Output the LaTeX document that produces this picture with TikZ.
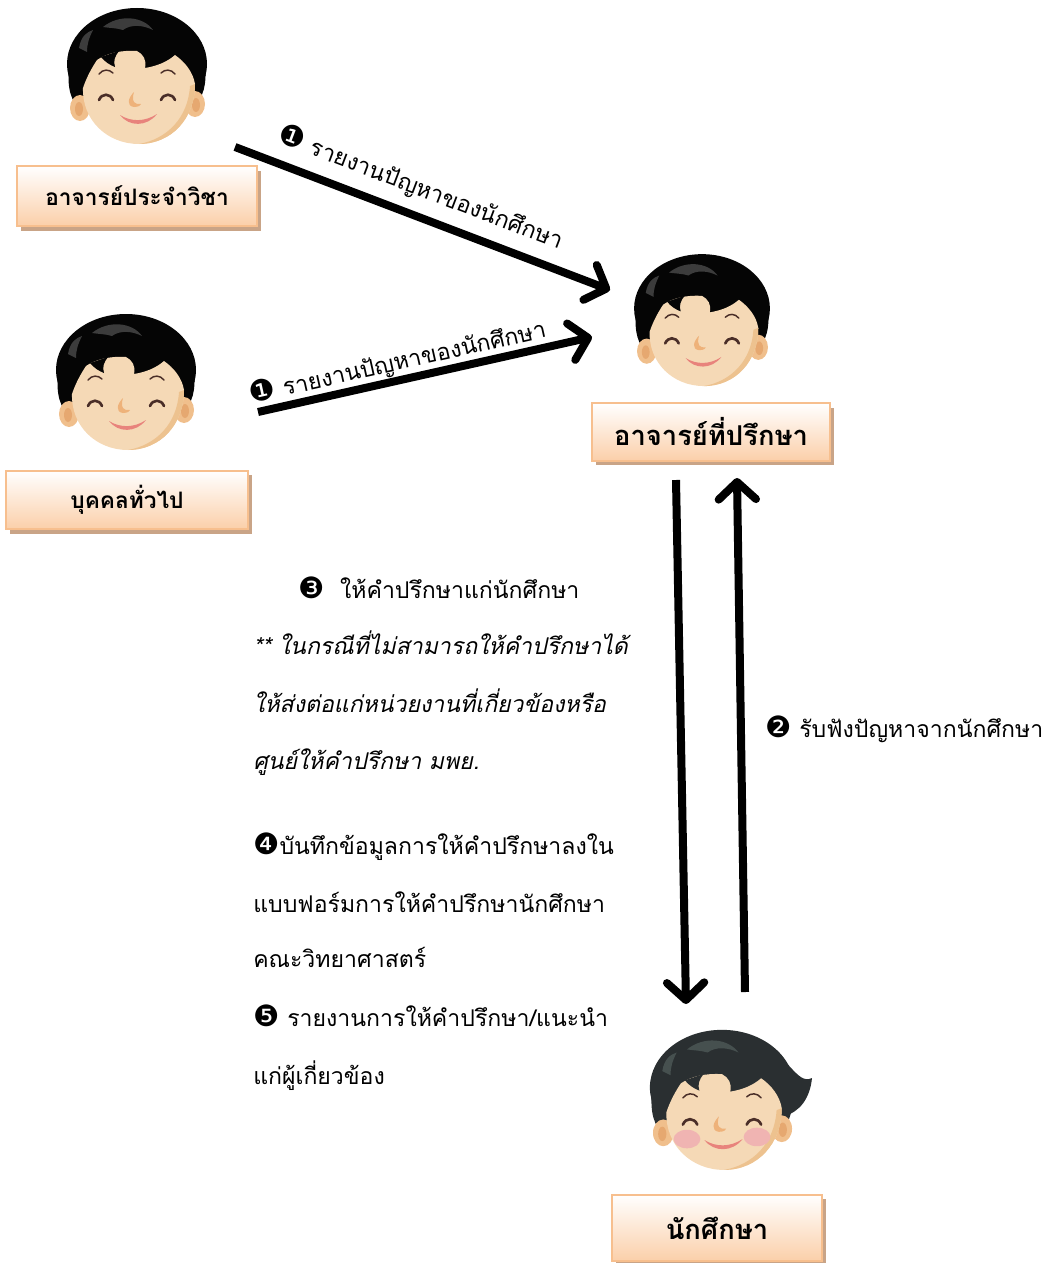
\documentclass[tikz,border=0pt]{standalone}
\usepackage{fontspec}
\setmainfont[Script=Thai]{Loma}
\newfontfamily\dingfont{DejaVu Sans}
\usetikzlibrary{arrows.meta,shadows}

\definecolor{skin}{HTML}{F5D9B6}
\definecolor{skinshade}{HTML}{EDC28F}
\definecolor{earc}{HTML}{F0BF8C}
\definecolor{earin}{HTML}{E6A870}
\definecolor{eyec}{HTML}{4A2E28}
\definecolor{nosec}{HTML}{EEB27A}
\definecolor{mouthc}{HTML}{E8837C}
\definecolor{cheekc}{HTML}{F0B4B2}
\definecolor{hairblack}{HTML}{050505}
\definecolor{hairgray}{HTML}{2A2F31}
\definecolor{hairhlblack}{HTML}{3C3C3C}
\definecolor{hairhlgray}{HTML}{46504F}
\definecolor{boxedge}{HTML}{F7BF8E}
\definecolor{boxfill}{HTML}{FBCFA9}
\definecolor{boxshade}{HTML}{C9A487}

\newcommand\bodysize{\fontsize{17.3}{20}\selectfont}
\newcommand\dnum[1]{{\dingfont\fontsize{22}{20}\selectfont #1}}

\tikzset{
  % cartoon head; #1 = hair colour, #2 = highlight colour
  pics/head/.style 2 args={code={
    % hair mass
    \fill[#1] (0,-16) ellipse [x radius=70, y radius=56];
    \fill[#1] (-68,-12) .. controls (-70,8) and (-66,22) .. (-56,30) -- (-46,6) -- cycle;
    \fill[#1] (68,-14) .. controls (70,4) and (66,18) .. (58,24) -- (48,2) -- cycle;
    % ears
    \fill[earc] (-57,28) ellipse [x radius=10, y radius=13];
    \fill[earc] (58,24) ellipse [x radius=10, y radius=13];
    \fill[earin] (-58,29) ellipse [x radius=4, y radius=7];
    \fill[earin] (59,25) ellipse [x radius=4, y radius=7];
    % face with the fringe cut along its top
    \fill[skin] (-54,8) .. controls (-55,40) and (-30,64) .. (2,64)
      .. controls (35,64) and (58,38) .. (58,4)
      .. controls (56,-8) and (48,-18) .. (38,-25)
      .. controls (30,-18) and (20,-14) .. (8,-12)
      .. controls (10,-20) and (6,-26) .. (0,-29)
      .. controls (-15,-30) and (-30,-27) .. (-40,-20)
      .. controls (-44,-14) and (-50,-4) .. (-54,8) -- cycle;
    \fill[skinshade] (58,4) .. controls (58,38) and (35,64) .. (2,64)
      .. controls (30,59) and (51,38) .. (53,6) -- cycle;
    % fringe lock
    \fill[#1] (-36,-23) .. controls (-32,-18) and (-27,-15) .. (-22,-13)
      .. controls (-24,-19) and (-22,-24) .. (-18,-29) -- cycle;
    % hair highlight
    \fill[#2] (-34,-53) .. controls (-18,-66) and (6,-64) .. (16,-50)
      .. controls (6,-55) and (-6,-56) .. (-14,-50)
      .. controls (-20,-52) and (-28,-52) .. (-34,-53) -- cycle;
    \fill[#2] (-58,-32) .. controls (-56,-44) and (-50,-48) .. (-44,-50)
      .. controls (-48,-42) and (-50,-36) .. (-50,-28) -- cycle;
    % brows
    \draw[eyec, line width=1.1pt, line cap=round] (-38,-6) .. controls (-34,-11) and (-28,-11) .. (-24,-7);
    \draw[eyec, line width=1.1pt, line cap=round] (24,-7) .. controls (28,-11) and (34,-11) .. (38,-6);
    % closed eyes
    \draw[eyec, line width=2pt, line cap=round] (-38,20) .. controls (-35,13) and (-27,13) .. (-24,20);
    \draw[eyec, line width=2pt, line cap=round] (24,20) .. controls (27,13) and (35,13) .. (38,20);
    % nose
    \fill[nosec] (-3,12) .. controls (-9,18) and (-11,26) .. (-3,27)
      .. controls (2,27) and (4,25) .. (4,24)
      .. controls (-2,25) and (-6,22) .. (-3,12) -- cycle;
    % smile
    \fill[mouthc] (-17,35) .. controls (-6,42) and (8,42) .. (20,34)
      .. controls (10,47) and (-8,47) .. (-17,35) -- cycle;
  }},
  pics/cheeks/.style={code={
    \fill[cheekc] (-34,34) ellipse [x radius=13, y radius=9];
    \fill[cheekc] (34,32) ellipse [x radius=13, y radius=9];
  }},
  pics/hairflip/.style={code={
    \fill[#1] (30,-66) .. controls (66,-52) and (74,-18) .. (90,-26)
      .. controls (88,-6) and (78,8) .. (62,12) -- (46,-10) -- cycle;
  }},
  personbox/.style={draw=boxedge, line width=1.5pt, top color=white,
    bottom color=boxfill, inner sep=0pt,
    general shadow={fill=boxshade, shadow xshift=3pt, shadow yshift=-3.5pt},
    font=\bfseries\fontsize{17}{20}\selectfont},
  largelabel/.style={font=\bfseries\fontsize{20.5}{22}\selectfont},
  bigarrow/.style={line width=6pt,
    -{Straight Barb[length=13pt, width=28pt, line cap=round, line join=round]}},
  flowtext/.style={anchor=base west, inner sep=0pt, font=\bodysize},
  arrowtext/.style={sloped, inner sep=0pt, font=\bodysize},
}

\begin{document}
\begin{tikzpicture}[x=0.75pt, y=-0.75pt]
\useasboundingbox (0,0) rectangle (1057,1263);

% people
\pic at (137,80) {head={hairblack}{hairhlblack}};
\pic at (126,386) {head={hairblack}{hairhlblack}};
\pic[scale=0.97] at (702,324) {head={hairblack}{hairhlblack}};
\pic at (722,1104) {hairflip=hairgray};
\pic[scale=1.03] at (722,1104) {head={hairgray}{hairhlgray}};
\pic[scale=1.03] at (722,1104) {cheeks};

% name boxes
\node[personbox, minimum width=180pt, minimum height=45pt] (teacher) at (137,196) {อาจารย์ประจำวิชา};
\node[personbox, minimum width=181pt, minimum height=44pt] (public) at (127,500) {บุคคลทั่วไป};
\node[personbox, largelabel, minimum width=179pt, minimum height=43pt] (advisor) at (711,432) {อาจารย์ที่ปรึกษา};
\node[personbox, largelabel, minimum width=157pt, minimum height=50pt] (student) at (717,1228) {นักศึกษา};

% arrow end points
\coordinate (t1) at (235,147);
\coordinate (a1) at (610,290);
\coordinate (p1) at (258,412);
\coordinate (a2) at (592,337);
\coordinate (dn1) at (676,480);
\coordinate (dn2) at (686,1004);
\coordinate (up1) at (745,992);
\coordinate (up2) at (737,478);

\draw[bigarrow] (t1) -- node[arrowtext, pos=0.47, above=8pt] {\dnum{❶}\ รายงานปัญหาของนักศึกษา} (a1);
\draw[bigarrow] (p1) -- node[arrowtext, pos=0.43, above=0.5pt] {\dnum{❶}\ รายงานปัญหาของนักศึกษา} (a2);
\draw[bigarrow] (dn1) -- (dn2);
\draw[bigarrow] (up1) -- (up2);

\node[flowtext] (step2) at (765,737) {\dnum{❷}\ รับฟังปัญหาจากนักศึกษา};

\node[flowtext] (step3) at (298,598) {\dnum{❸}\ \ ให้คำปรึกษาแก่นักศึกษา};
\node[flowtext, font=\bodysize\itshape] (note1) at (253,654) {** ในกรณีที่ไม่สามารถให้คำปรึกษาได้};
\node[flowtext, font=\bodysize\itshape] (note2) at (253,712) {ให้ส่งต่อแก่หน่วยงานที่เกี่ยวข้องหรือ};
\node[flowtext, font=\bodysize\itshape] (note3) at (253,769) {ศูนย์ให้คำปรึกษา มพย.};
\node[flowtext] (step4) at (253,854) {\dnum{❹}บันทึกข้อมูลการให้คำปรึกษาลงใน};
\node[flowtext] (step4b) at (253,912) {แบบฟอร์มการให้คำปรึกษานักศึกษา};
\node[flowtext] (step4c) at (253,967) {คณะวิทยาศาสตร์};
\node[flowtext] (step5) at (253,1026) {\dnum{❺}\ รายงานการให้คำปรึกษา/แนะนำ};
\node[flowtext] (step5b) at (253,1084) {แก่ผู้เกี่ยวข้อง};
\end{tikzpicture}
\end{document}
